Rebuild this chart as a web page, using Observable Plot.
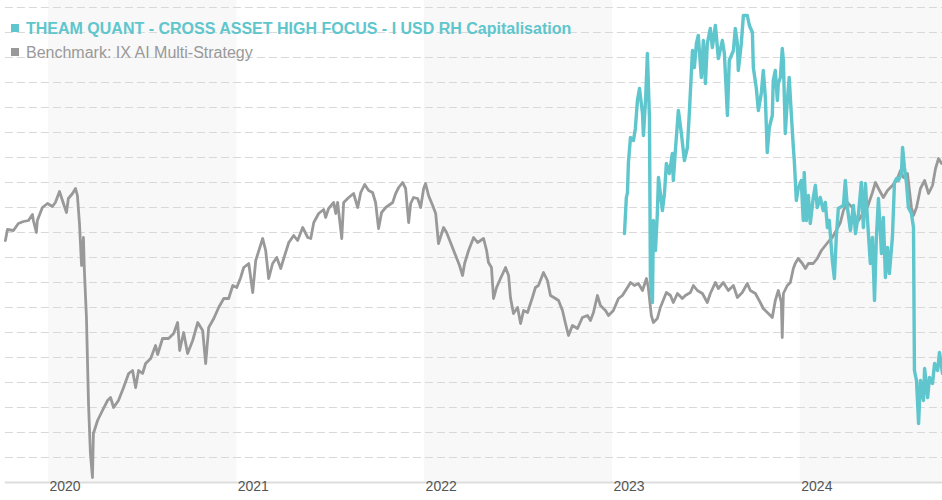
<!DOCTYPE html>
<html>
<head>
<meta charset="utf-8">
<script src="https://cdn.jsdelivr.net/npm/d3@7"></script>
<script src="https://cdn.jsdelivr.net/npm/@observablehq/plot@0.6"></script>
<style>
  html, body { margin: 0; padding: 0; background: #fff; }
  #wrap { position: relative; width: 942px; height: 500px; font-family: "Liberation Sans", Arial, sans-serif; }
  #legend { position: absolute; left: 0; top: 0; pointer-events: none; }
  .lg { position: absolute; left: 11px; white-space: nowrap; font-size: 16px; line-height: 18px; }
  .lg .sw { display: inline-block; width: 8px; height: 8px; margin-right: 7px; vertical-align: 2px; }
</style>
</head>
<body>
<div id="wrap"><div id="chart"></div><div id="legend"></div></div>
<script>
// ---- data ----
const seriesNames = ["THEAM QUANT - CROSS ASSET HIGH FOCUS - I USD RH Capitalisation", "Benchmark: IX AI Multi-Strategy"];
const seriesColors = ["#5ec6cc", "#999999"];
const yearLabels = ["2020", "2021", "2022", "2023", "2024"];
const bandYears = [2020, 2022, 2024];

const benchYears = [2019.771,2019.782,2019.814,2019.840,2019.867,2019.894,2019.915,2019.920,2019.936,2019.941,2019.968,2019.995,2020.021,2020.037,2020.059,2020.080,2020.096,2020.106,2020.128,2020.144,2020.154,2020.165,2020.176,2020.186,2020.191,2020.202,2020.213,2020.223,2020.234,2020.239,2020.261,2020.287,2020.314,2020.330,2020.346,2020.372,2020.399,2020.426,2020.447,2020.463,2020.479,2020.500,2020.516,2020.543,2020.569,2020.580,2020.606,2020.638,2020.665,2020.686,2020.697,2020.718,2020.739,2020.766,2020.793,2020.819,2020.835,2020.851,2020.878,2020.904,2020.931,2020.957,2020.979,2021.000,2021.021,2021.037,2021.064,2021.085,2021.101,2021.138,2021.154,2021.170,2021.191,2021.213,2021.234,2021.250,2021.277,2021.303,2021.324,2021.351,2021.378,2021.394,2021.410,2021.436,2021.463,2021.473,2021.489,2021.516,2021.527,2021.537,2021.559,2021.569,2021.596,2021.622,2021.644,2021.660,2021.681,2021.702,2021.723,2021.739,2021.755,2021.771,2021.793,2021.830,2021.846,2021.862,2021.883,2021.899,2021.915,2021.926,2021.941,2021.963,2021.979,2021.995,2022.005,2022.021,2022.043,2022.059,2022.074,2022.101,2022.117,2022.138,2022.165,2022.186,2022.202,2022.213,2022.234,2022.261,2022.282,2022.298,2022.314,2022.330,2022.340,2022.356,2022.367,2022.383,2022.404,2022.431,2022.447,2022.457,2022.473,2022.495,2022.511,2022.527,2022.548,2022.574,2022.590,2022.606,2022.633,2022.654,2022.670,2022.697,2022.713,2022.734,2022.750,2022.766,2022.787,2022.814,2022.840,2022.867,2022.883,2022.899,2022.920,2022.936,2022.963,2022.979,2023.005,2023.032,2023.053,2023.080,2023.096,2023.117,2023.138,2023.160,2023.181,2023.191,2023.207,2023.218,2023.239,2023.255,2023.287,2023.309,2023.324,2023.346,2023.372,2023.388,2023.415,2023.431,2023.452,2023.479,2023.505,2023.521,2023.548,2023.564,2023.590,2023.617,2023.644,2023.665,2023.691,2023.718,2023.734,2023.761,2023.787,2023.803,2023.830,2023.851,2023.867,2023.883,2023.899,2023.904,2023.910,2023.931,2023.947,2023.963,2023.973,2023.989,2024.011,2024.027,2024.043,2024.069,2024.090,2024.112,2024.133,2024.154,2024.170,2024.191,2024.213,2024.229,2024.250,2024.277,2024.293,2024.309,2024.335,2024.356,2024.383,2024.399,2024.415,2024.441,2024.463,2024.489,2024.511,2024.532,2024.548,2024.569,2024.590,2024.601,2024.617,2024.638,2024.660,2024.681,2024.702,2024.718,2024.734,2024.750];
const benchValues = [9.68,10.12,10.08,10.36,10.44,10.48,10.72,10.48,10.00,10.48,11.00,11.16,11.04,11.20,11.64,11.16,10.80,11.36,11.56,11.76,11.48,10.36,8.68,9.80,8.48,6.60,3.16,1.16,0.20,1.96,2.48,2.88,3.28,3.40,3.00,3.28,3.80,4.36,4.48,3.80,4.48,4.36,4.76,4.96,5.48,5.12,5.76,5.76,5.96,6.40,5.28,6.00,5.16,5.68,6.40,6.08,4.76,6.20,6.56,7.00,7.36,7.36,7.88,7.80,8.20,8.60,8.76,7.60,8.88,9.76,9.28,8.16,8.76,9.00,8.56,8.96,9.60,9.88,9.68,10.20,9.80,9.76,10.40,10.76,10.92,10.60,10.96,11.20,10.76,11.20,9.76,11.20,11.40,11.56,11.00,11.60,11.92,11.68,11.60,11.20,10.16,10.80,11.00,11.20,11.56,11.80,12.00,11.76,10.40,11.16,11.40,11.36,11.00,11.76,11.96,11.48,11.08,10.76,9.56,10.20,10.00,9.60,9.08,8.68,8.28,8.76,9.28,9.80,9.60,9.68,9.76,9.28,8.80,8.60,7.36,7.80,8.16,8.60,8.28,7.40,6.76,7.00,6.36,6.88,6.80,7.40,7.80,7.88,8.40,8.08,7.48,7.36,7.28,6.88,6.36,5.88,6.28,6.16,6.60,6.68,6.48,6.80,7.48,7.08,6.88,6.68,6.88,7.36,7.48,7.80,8.00,7.88,7.96,7.68,8.16,7.80,6.68,6.40,6.56,7.00,7.60,7.48,7.20,7.56,7.36,7.48,7.60,7.88,7.68,7.56,7.20,7.56,8.00,7.76,8.00,7.68,7.88,7.40,7.60,7.96,7.68,7.56,7.20,6.96,6.76,6.60,7.28,7.68,7.20,5.80,7.56,7.88,8.00,8.56,8.76,8.96,8.76,8.56,8.76,8.76,8.96,9.28,9.48,9.68,9.80,10.08,10.40,10.88,11.20,11.00,10.60,10.48,10.80,11.00,11.60,12.00,11.76,11.40,11.68,11.88,12.08,12.48,12.20,12.36,11.00,10.68,11.00,11.76,12.08,11.56,11.88,12.56,12.96,12.76];

const fundYears = [2023.064,2023.074,2023.080,2023.085,2023.096,2023.112,2023.122,2023.133,2023.144,2023.160,2023.165,2023.176,2023.181,2023.186,2023.197,2023.202,2023.213,2023.218,2023.229,2023.239,2023.245,2023.266,2023.277,2023.287,2023.303,2023.319,2023.324,2023.335,2023.351,2023.367,2023.383,2023.399,2023.410,2023.426,2023.436,2023.447,2023.457,2023.473,2023.484,2023.495,2023.505,2023.521,2023.532,2023.548,2023.564,2023.585,2023.596,2023.612,2023.622,2023.644,2023.654,2023.665,2023.670,2023.686,2023.697,2023.718,2023.729,2023.745,2023.750,2023.766,2023.777,2023.793,2023.803,2023.814,2023.824,2023.835,2023.851,2023.856,2023.867,2023.878,2023.883,2023.894,2023.904,2023.910,2023.920,2023.931,2023.941,2023.952,2023.963,2023.968,2023.979,2023.989,2024.005,2024.016,2024.021,2024.032,2024.043,2024.053,2024.069,2024.080,2024.090,2024.106,2024.122,2024.133,2024.144,2024.154,2024.170,2024.181,2024.191,2024.202,2024.229,2024.239,2024.250,2024.266,2024.282,2024.293,2024.309,2024.324,2024.335,2024.346,2024.356,2024.372,2024.383,2024.394,2024.404,2024.415,2024.431,2024.441,2024.452,2024.463,2024.473,2024.489,2024.500,2024.511,2024.521,2024.537,2024.543,2024.553,2024.564,2024.574,2024.590,2024.601,2024.606,2024.617,2024.628,2024.638,2024.654,2024.660,2024.676,2024.686,2024.702,2024.713,2024.729,2024.739,2024.755];
const fundValues = [9.96,11.40,11.60,12.80,13.80,13.68,14.16,15.28,15.76,14.76,13.88,15.28,16.16,17.16,14.60,8.20,7.20,10.48,9.28,10.76,12.20,10.88,11.56,12.76,12.36,13.16,12.08,13.28,14.88,13.96,12.88,13.40,14.88,17.28,16.60,17.56,17.88,16.20,17.68,15.96,17.56,18.16,17.40,18.28,16.96,17.68,17.16,14.68,16.88,17.28,18.16,17.56,16.48,17.56,18.68,18.68,18.28,18.00,16.60,15.76,14.88,15.60,16.48,15.40,13.20,14.20,14.68,16.08,16.48,15.28,15.96,16.20,17.36,16.88,13.96,15.28,16.20,14.76,13.40,12.88,11.28,11.76,12.08,10.48,12.40,10.48,11.48,10.36,11.40,11.88,11.00,11.40,10.88,11.20,10.20,10.48,8.88,8.16,9.80,10.96,11.08,12.08,11.00,10.08,11.08,9.96,10.76,12.00,10.20,11.96,10.60,8.76,9.80,7.28,9.80,11.36,9.16,10.60,8.20,9.40,8.36,9.80,12.00,12.16,12.08,12.36,13.40,12.60,11.96,11.00,10.76,10.20,4.48,4.08,2.36,4.08,3.28,4.56,3.40,4.20,3.96,4.76,4.48,5.20,4.36];

// ---- helpers ----
function toDate(y) {
  const Y = Math.floor(y);
  const s = Date.UTC(Y, 0, 1), e = Date.UTC(Y + 1, 0, 1);
  return new Date(s + (y - Y) * (e - s));
}
const xStart = toDate(2019.745), xEnd = toDate(2024.755);
const bench = benchYears.map((y, i) => ({date: toDate(y), value: benchValues[i]}));
const fund = fundYears.map((y, i) => ({date: toDate(y), value: fundValues[i]}));
const bands = bandYears.map(y => ({x1: toDate(y), x2: new Date(Math.min(+toDate(y + 1), +xEnd))}));
const labels = yearLabels.map(t => ({date: toDate(+t), label: t}));
const gridLevels = d3.range(1, 20);
const gridStart = toDate(benchYears[0]);

const chart = Plot.plot({
  width: 942,
  height: 500,
  marginLeft: 0,
  marginRight: 0,
  marginTop: 7,
  marginBottom: 18,
  style: {background: "#fff", fontFamily: "'Liberation Sans', Arial, sans-serif"},
  x: {type: "time", domain: [xStart, xEnd], axis: null},
  y: {domain: [0, 19], axis: null},
  marks: [
    Plot.rect(bands, {x1: "x1", x2: "x2", y1: 0, y2: 19.28, fill: "#f8f8f8"}),
    Plot.ruleY(gridLevels, {x1: gridStart, x2: xEnd, stroke: "#d9d9d9", strokeWidth: 1, strokeDasharray: "8,4"}),
    Plot.ruleY([0], {x1: gridStart, x2: xEnd, stroke: "#dddddd", strokeWidth: 2}),
    Plot.text(labels, {x: "date", text: "label", frameAnchor: "bottom", dy: 8, dx: 1, textAnchor: "start", fill: "#555", fontSize: 14}),
    Plot.line(bench, {x: "date", y: "value", stroke: seriesColors[1], strokeWidth: 2.8, strokeLinejoin: "round"}),
    Plot.line(fund, {x: "date", y: "value", stroke: seriesColors[0], strokeWidth: 3.4, strokeLinejoin: "round"})
  ]
});
document.getElementById("chart").appendChild(chart);

// legend overlay (top-left, over the plot area)
const legend = document.getElementById("legend");
seriesNames.forEach((name, i) => {
  const row = document.createElement("div");
  row.className = "lg";
  row.style.top = (i === 0 ? 20 : 44) + "px";
  row.style.color = seriesColors[i];
  row.style.fontWeight = i === 0 ? "bold" : "normal";
  const sw = document.createElement("span");
  sw.className = "sw";
  sw.style.background = seriesColors[i];
  row.appendChild(sw);
  row.appendChild(document.createTextNode(name));
  legend.appendChild(row);
});
</script>
</body>
</html>
